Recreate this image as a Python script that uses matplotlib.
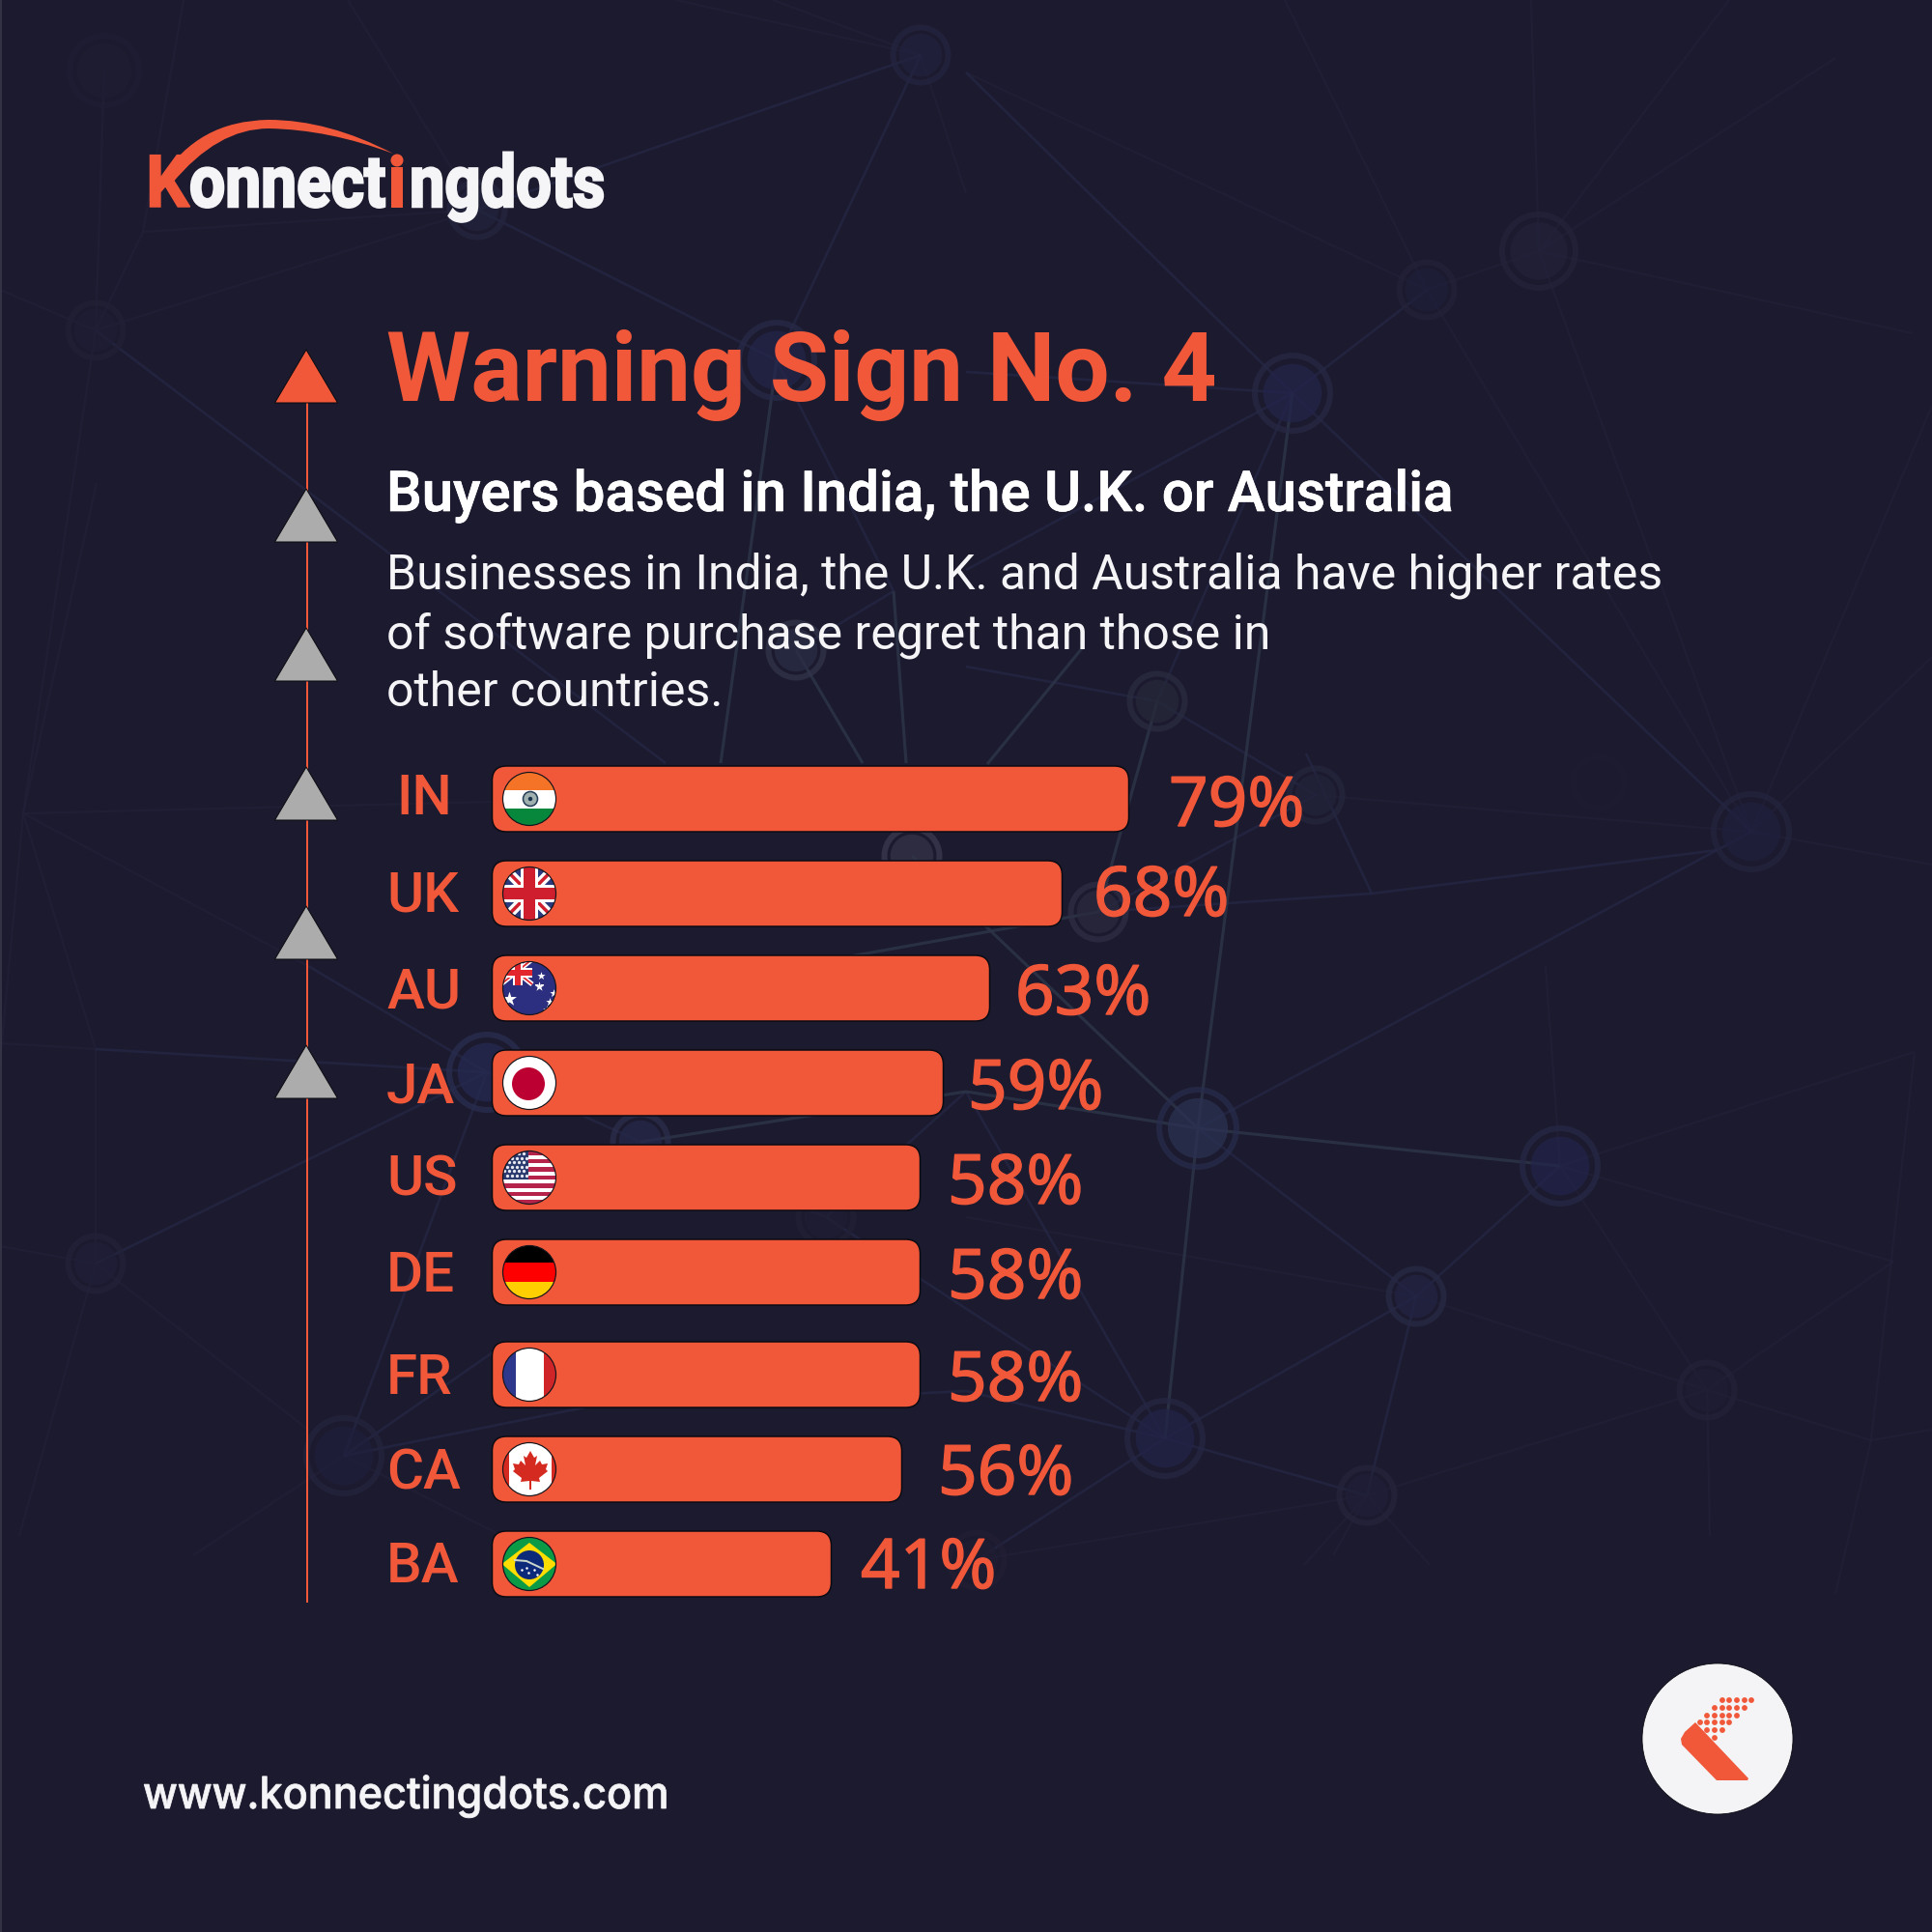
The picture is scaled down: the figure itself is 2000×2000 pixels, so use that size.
import matplotlib
matplotlib.use("Agg")
import matplotlib.pyplot as plt
from matplotlib.patches import FancyBboxPatch, Circle, Rectangle, Polygon, PathPatch
from matplotlib.path import Path
from matplotlib.patheffects import AbstractPathEffect, withStroke
from matplotlib.transforms import Affine2D

# ---------- chart data ----------
countries = ["IN", "UK", "AU", "JA", "US", "DE", "FR", "CA", "BA"]
percent_values = [79, 68, 63, 59, 58, 58, 58, 56, 41]
# drawn bar lengths (the source bars are not strictly proportional)
bar_lengths = [659, 590, 515, 467, 443, 443, 443, 424, 351]
title_text = "Warning Sign No. 4"
subtitle_text = "Buyers based in India, the U.K. or Australia"
body_lines = ["Businesses in India, the U.K. and Australia have higher rates",
              "of software purchase regret than those in",
              "other countries."]
site_text = "www.konnectingdots.com"

# ---------- layout ----------
row_centers = [827, 925, 1023, 1121, 1219, 1317, 1423, 1521, 1619]
label_x = [410, 400, 400, 400, 400, 400, 400, 400, 400]
label_base = [843, 944, 1043, 1141, 1238, 1337, 1443, 1541, 1638]
pct_x = [1210, 1132, 1051, 1002, 981, 981, 981, 971, 891]
pct_base = [855, 948, 1050, 1148, 1246, 1344, 1450, 1547, 1644]
BAR_X, BAR_H, FLAG_X, FLAG_R = 509.5, 68, 548, 27.5
ORANGE, BG, GREY = "#f1583a", "#1c1a2e", "#acacac"
WHITE = "#f5f5f7"
PX = 72 / 200

plt.rcParams["font.family"] = ["Roboto", "DejaVu Sans"]
fig = plt.figure(figsize=(10, 10), dpi=200, facecolor=BG)
ax = fig.add_axes([0, 0, 1, 1])
ax.set_xlim(0, 2000)
ax.set_ylim(2000, 0)
ax.axis("off")

# ---------- background network ----------
NODES = [  # x, y, outer radius, inner colour, ring colour
    (1593, 260, 40, "#22223a", "#242339"), (1477, 300, 30, "#201f3a", "#232238"),
    (1338, 407, 41, "#23244a", "#272844"), (1813, 861, 41, "#20203e", "#24243f"),
    (1362, 823, 29, "#22233a", "#25263e"), (1198, 726, 30, "#262838", "#2a2c40"),
    (1137, 944, 30, "#2a2a3e", "#2e2e45"), (1240, 1168, 42, "#2a3152", "#282c4c"),
    (1615, 1207, 41, "#22244a", "#262845"), (1466, 1342, 30, "#232444", "#282944"),
    (1206, 1489, 41, "#222347", "#262744"), (1415, 1548, 30, "#211f38", "#25243c"),
    (1767, 1439, 30, "#1f1e34", "#232238"), (1011, 1615, 30, "#1f1d33", "#221f36"),
    (953, 57, 30, "#22223f", "#242440"), (108, 73, 38, "#1e1d33", "#1f1e34"),
    (494, 217, 30, "#22233d", "#25253f"), (99, 342, 30, "#1f1e35", "#212036"),
    (804, 373, 41, "#24264a", "#282a48"), (824, 673, 30, "#2a2d45", "#32344a"),
    (944, 886, 30, "#333348", "#3a3a50"), (663, 1182, 30, "#26284a", "#2c2e4c"),
    (504, 1110, 41, "#252a50", "#2a2e50"), (99, 1308, 30, "#201f38", "#23223a"),
    (356, 1507, 41, "#201f3c", "#25243f"), (855, 1260, 30, "#1f1e34", "#212036"),
    (1655, 810, 28, "#1d1b30", "#1e1c31"),
]
EDGES_BRIGHT = [
    (1240, 1168, 1000, 1130), (1240, 1168, 1615, 1207), (1338, 407, 1240, 1168),
    (1240, 1168, 944, 886), (1121, 670, 1022, 791), (663, 1182, 1000, 1130),
    (1198, 726, 1137, 944), (1240, 1168, 1206, 1489), (804, 373, 746, 790),
    (824, 673, 893, 790), (925, 612, 938, 790), (1137, 944, 880, 990),
]
EDGES_MID = [
    (1338, 407, 1000, 385), (1338, 407, 1477, 300), (1338, 407, 1000, 590),
    (1338, 407, 1813, 861), (1338, 407, 1198, 726), (1000, 75, 1338, 407),
    (1240, 1168, 1813, 861), (1240, 1168, 1466, 1342), (1206, 1489, 1466, 1342),
    (1466, 1342, 1615, 1207), (1206, 1489, 1000, 1130), (1206, 1489, 1415, 1548),
    (1206, 1489, 1000, 1440), (1206, 1489, 1011, 1615), (1466, 1342, 1415, 1548),
    (953, 57, 804, 373), (953, 57, 494, 217), (494, 217, 804, 373),
    (804, 373, 925, 612), (925, 612, 824, 673), (99, 342, 689, 790),
    (504, 1110, 99, 1086), (504, 1110, 356, 1507), (99, 1308, 504, 1110),
    (319, 1000, 504, 1110), (356, 1507, 510, 1400), (356, 1507, 640, 1450),
    (1198, 726, 1362, 823), (1137, 944, 1362, 823), (1137, 944, 1420, 925),
    (1420, 925, 1778, 880), (1420, 925, 1352, 780), (1198, 726, 1000, 690),
    (663, 1182, 855, 1260), (855, 1260, 1206, 1489), (1000, 1130, 855, 1260),
    (504, 1110, 663, 1182), (1000, 1440, 800, 1450),
]
EDGES_FAINT = [
    (1477, 300, 1593, 260), (1593, 260, 1585, 0), (1593, 260, 1813, 861),
    (1477, 300, 1813, 861), (1477, 300, 1000, 75), (1593, 260, 1980, 345),
    (1813, 861, 2000, 420), (1813, 861, 2000, 680), (1813, 861, 2000, 895),
    (1813, 861, 1362, 823), (1615, 1207, 1767, 1439), (1615, 1207, 1982, 1089),
    (1615, 1207, 1960, 1306), (1466, 1342, 1767, 1439), (1415, 1548, 1767, 1439),
    (1415, 1548, 1011, 1615), (1767, 1439, 1937, 1491), (1767, 1439, 1960, 1306),
    (1767, 1439, 1770, 1590), (1982, 1089, 1937, 1491), (1937, 1491, 2000, 1480),
    (1937, 1491, 1900, 1650), (1415, 1548, 1350, 1620), (1415, 1548, 1380, 1610),
    (1415, 1548, 1480, 1620), (1000, 1260, 1466, 1342), (1615, 1207, 1600, 1000),
    (1477, 300, 1330, 0), (1593, 260, 1790, 0), (1593, 260, 1900, 60),
    (494, 217, 148, 240), (148, 240, 99, 342), (494, 217, 99, 342), (99, 342, 24, 842),
    (108, 73, 99, 342), (24, 842, 319, 1000), (24, 842, 510, 830), (99, 1086, 24, 842),
    (99, 1086, 0, 1080), (99, 1086, 99, 1308), (99, 1308, 0, 1290), (99, 1308, 319, 1480),
    (99, 1308, 20, 1590), (356, 1507, 520, 1590), (356, 1507, 200, 1610),
    (24, 842, 0, 1100), (24, 842, 100, 500), (99, 342, 0, 300), (148, 240, 190, 0),
    (494, 217, 360, 0), (953, 57, 800, 0), (953, 57, 1000, 200), (953, 57, 700, 0),
]
for segs, col, lw, alpha in ((EDGES_FAINT, "#22213a", 1.0, 0.6), (EDGES_MID, "#262848", 1.2, 0.65),
                             (EDGES_BRIGHT, "#2d3448", 1.4, 0.85)):
    for x0, y0, x1, y1 in segs:
        ax.plot([x0, x1], [y0, y1], color=col, lw=lw * 0.8, alpha=alpha, zorder=1,
                solid_capstyle="butt")
for x, y, r, inner, ring in NODES:
    ax.add_patch(Circle((x, y), r * 0.74, fc=inner, ec="none", alpha=0.75, zorder=2))
    ax.add_patch(Circle((x, y), r * 0.95, fc="none", ec=ring, lw=6 * PX, alpha=0.75, zorder=2))
ax.plot([0.5, 0.5], [0, 2000], color="#3b3a4c", lw=1.5 * PX, zorder=2)


# ---------- text helpers ----------
class Stretch(AbstractPathEffect):
    """Scale a real text object around a fixed anchor (pixels, display coordinates)."""
    def __init__(self, x0, y0, sx, sy=1.0, stroke=0.0):
        super().__init__()
        self.x0, self.y0, self.sx, self.sy, self.stroke = x0, y0, sx, sy, stroke

    def draw_path(self, renderer, gc, tpath, affine, rgbFace=None):
        extra = (Affine2D().translate(-self.x0, -self.y0).scale(self.sx, self.sy)
                 .translate(self.x0, self.y0))
        gc0 = renderer.new_gc()
        gc0.copy_properties(gc)
        if self.stroke > 0:
            gc0.set_foreground(rgbFace)
            gc0.set_linewidth(self.stroke * PX)
            gc0.set_joinstyle("miter")
        else:
            gc0.set_linewidth(0)
        renderer.draw_path(gc0, tpath, affine + extra, rgbFace)
        gc0.restore()


renderer = fig.canvas.get_renderer()


def fitted(s, x0, x1, y, color, size, stroke=0.0, sy=1.0, **kw):
    t = ax.text(x0, y, s, color=color, fontsize=size, va="baseline", ha="left", zorder=6, **kw)
    bb = t.get_window_extent(renderer)
    t.set_x(x0 - (bb.x0 - x0))
    t.set_path_effects([Stretch(x0, 2000 - y, (x1 - x0) / bb.width, sy, stroke)])
    return t


# ---------- logo ----------
LOGO = dict(fontweight="bold", family=["Roboto", "DejaVu Sans"])
LOGO_SIZE = 23.5
LOGO_SY = 27 / LOGO_SIZE
fitted("K", 151, 196, 214, ORANGE, LOGO_SIZE, stroke=1.5, sy=LOGO_SY, **LOGO)
fitted("onnect", 196, 399, 214, WHITE, LOGO_SIZE, stroke=2.5, sy=LOGO_SY, **LOGO)
fitted("\u0131", 402, 420, 214, ORANGE, LOGO_SIZE, stroke=2, sy=LOGO_SY, **LOGO)
fitted("ngdots", 424, 626, 214, WHITE, LOGO_SIZE, stroke=2.5, sy=LOGO_SY, **LOGO)
ax.add_patch(Circle((411, 166), 6.5, fc=ORANGE, ec="none", zorder=6))
swoosh = Path([(168, 184), (205, 125), (278, 124), (340, 124), (407, 159),
               (340, 134), (278, 133), (225, 133), (178, 190), (168, 184)],
              [Path.MOVETO, Path.CURVE3, Path.CURVE3, Path.CURVE3, Path.CURVE3,
               Path.CURVE3, Path.CURVE3, Path.CURVE3, Path.CURVE3, Path.CLOSEPOLY])
ax.add_patch(PathPatch(swoosh, fc=ORANGE, ec="none", zorder=6))

# ---------- arrow line and triangles ----------
ax.plot([317.5, 317.5], [417, 1658], color=ORANGE, lw=2 * PX, zorder=3)
tri_tops = [362, 506, 650, 794, 938, 1082]
for i, top in enumerate(tri_tops):
    ax.add_patch(Polygon([(317, top), (349.5, top + 55), (284.5, top + 55)], closed=True,
                         fc=ORANGE if i == 0 else GREY, ec="#0a0a10", lw=1 * PX, zorder=4))

# ---------- headings ----------
ax.text(400, 415, title_text, color=ORANGE, fontsize=35.9, fontweight="bold", va="baseline", zorder=6)
ax.text(400, 529, subtitle_text, color="white", fontsize=20.95, fontweight="medium", va="baseline", zorder=6,
        path_effects=[withStroke(linewidth=0.7 * PX, foreground="white")])
for line, y in zip(body_lines, [610, 671, 731]):
    ax.text(400, y, line, color=WHITE, fontsize=17.94, va="baseline", zorder=6)
fitted(site_text, 148, 692, 1872, WHITE, 16.4, stroke=0.8, fontweight="medium",
       family=["Inter", "DejaVu Sans"])


# ---------- flags ----------
def clip_to(cy):
    c = Circle((FLAG_X, cy), FLAG_R, transform=ax.transData)
    return c


def rect(cy, x0, y0, x1, y1, col, z=8):
    p = Rectangle((x0, y0), x1 - x0, y1 - y0, fc=col, ec="none", zorder=z)
    ax.add_patch(p)
    p.set_clip_path(clip_to(cy))
    return p


def poly(cy, pts, col, z=8):
    p = Polygon(pts, closed=True, fc=col, ec="none", zorder=z)
    ax.add_patch(p)
    p.set_clip_path(clip_to(cy))
    return p


def stripe(cy, x0, y0, x1, y1, col, w, z=8):
    l, = ax.plot([x0, x1], [y0, y1], color=col, lw=w * PX, zorder=z, solid_capstyle="butt")
    l.set_clip_path(clip_to(cy))


def stars(cy, pts, size=8, marker="*", col="white"):
    xs, ys = zip(*pts)
    s = ax.scatter(xs, ys, s=size, marker=marker, c=col, linewidths=0, zorder=10)
    s.set_clip_path(clip_to(cy))


L, R = FLAG_X - FLAG_R, FLAG_X + FLAG_R


def flag_in(cy):
    rect(cy, L, cy - 28, R, cy - 9, "#f47327")
    rect(cy, L, cy - 9, R, cy + 10, "white")
    rect(cy, L, cy + 10, R, cy + 28, "#07873c")
    ax.add_patch(Circle((FLAG_X + 1, cy), 7.5, fc="#9fb0ae", ec="#28405a", lw=1.6 * PX, zorder=9))
    ax.add_patch(Circle((FLAG_X + 1, cy), 2.2, fc="#17324a", ec="none", zorder=10))


def flag_uk(cy):
    rect(cy, L, cy - 28, R, cy + 28, "#2b3a7c")
    for sign in (1, -1):
        stripe(cy, L, cy - 28 * sign, R, cy + 28 * sign, "white", 10)
        stripe(cy, L, cy - 28 * sign, R, cy + 28 * sign, "#cf1f2e", 3.5, z=9)
    rect(cy, L, cy - 9, R, cy + 9, "white", z=9)
    rect(cy, FLAG_X - 9, cy - 28, FLAG_X + 9, cy + 28, "white", z=9)
    rect(cy, L, cy - 6, R, cy + 6, "#cf1f2e", z=10)
    rect(cy, FLAG_X - 6, cy - 28, FLAG_X + 6, cy + 28, "#cf1f2e", z=10)


def flag_au(cy):
    rect(cy, L, cy - 28, R, cy + 28, "#2c2f80")
    stripe(cy, L - 2, cy - 30, 551, cy - 4, "white", 5)
    stripe(cy, L - 2, cy - 4, 551, cy - 30, "white", 5)
    stripe(cy, L - 2, cy - 30, 551, cy - 4, "#e3262e", 1.8, z=9)
    stripe(cy, L - 2, cy - 4, 551, cy - 30, "#e3262e", 1.8, z=9)
    rect(cy, L, cy - 21, 551, cy - 11, "white", z=9)
    rect(cy, 531, cy - 30, 541, cy - 3, "white", z=9)
    rect(cy, L, cy - 19, 551, cy - 13, "#e3262e", z=10)
    rect(cy, 533, cy - 30, 539, cy - 3, "#e3262e", z=10)
    stars(cy, [(560, cy - 13), (573, cy + 5), (569, cy + 14), (566, cy + 22)], size=10)
    stars(cy, [(527, cy + 11)], size=32)
    stars(cy, [(558, cy - 2)], size=14)


def flag_ja(cy):
    rect(cy, L, cy - 28, R, cy + 28, "white")
    ax.add_patch(Circle((FLAG_X - 1, cy + 1), 17, fc="#bc0032", ec="none", zorder=9))


def flag_us(cy):
    rect(cy, L, cy - 28, R, cy + 28, "white")
    h = 55 / 13
    for k in range(0, 13, 2):
        rect(cy, L, cy - 27.5 + k * h, R, cy - 27.5 + (k + 1) * h, "#b5224a")
    rect(cy, L, cy - 28, 547, cy + 2, "#2b3a6e", z=9)
    pts = [(522 + 5 * i + (2.5 if j % 2 else 0), cy - 25 + 4.6 * j)
           for i in range(5) for j in range(6)]
    stars(cy, pts, size=1.4, marker="o", col="#e8e8f0")


def flag_de(cy):
    rect(cy, L, cy - 28, R, cy - 10, "black")
    rect(cy, L, cy - 10, R, cy + 10, "#ff0000")
    rect(cy, L, cy + 10, R, cy + 28, "#ffce00")


def flag_fr(cy):
    rect(cy, L, cy - 28, 534, cy + 28, "#2d388d")
    rect(cy, 534, cy - 28, 563, cy + 28, "white")
    rect(cy, 563, cy - 28, R, cy + 28, "#cf2529")


def flag_ca(cy):
    rect(cy, L, cy - 28, 527, cy + 28, "#d42a20")
    rect(cy, 527, cy - 28, 571, cy + 28, "white")
    rect(cy, 571, cy - 28, R, cy + 28, "#d42a20")
    leaf = [(0, -18), (4, -11), (7, -13), (5, -3), (10, -8), (12, -4), (18, -5), (16, 1),
            (18, 3), (9, 10), (10, 14), (1, 13), (1, 22), (-1, 22), (-1, 13), (-10, 14),
            (-9, 10), (-18, 3), (-16, 1), (-18, -5), (-12, -4), (-10, -8), (-5, -3),
            (-7, -13), (-4, -11)]
    poly(cy, [(FLAG_X + 1 + a, cy - 1 + b) for a, b in leaf], "#d42a20", z=9)


def flag_br(cy):
    rect(cy, L, cy - 28, R, cy + 28, "#0b9a45")
    poly(cy, [(L - 1, cy), (FLAG_X, cy - 22), (R + 1, cy), (FLAG_X, cy + 24)], "#fedd00", z=9)
    ax.add_patch(Circle((FLAG_X, cy + 1), 15, fc="#0d2a7a", ec="none", zorder=10))
    ax.plot([533, 545, 562], [cy - 4, cy - 3, cy + 5], color="#c9d6cc", lw=2 * PX, zorder=11)
    ax.scatter([540, 547, 553, 556, 545], [cy + 6, cy + 9, cy + 6, cy + 11, cy + 4], s=0.8,
               c="white", linewidths=0, zorder=11)


flag_painters = [flag_in, flag_uk, flag_au, flag_ja, flag_us, flag_de, flag_fr, flag_ca, flag_br]

# ---------- bars, labels, flags ----------
for name, pct, length, cy, lx, lb, px, pb, paint in zip(
        countries, percent_values, bar_lengths, row_centers, label_x, label_base,
        pct_x, pct_base, flag_painters):
    ax.add_patch(FancyBboxPatch((BAR_X, cy - BAR_H / 2), length, BAR_H,
                                boxstyle="round,pad=0,rounding_size=15",
                                fc=ORANGE, ec="#0a0a12", lw=1.5 * PX, zorder=5))
    ax.text(lx, lb, name, color=ORANGE, fontsize=21, fontweight="medium", va="baseline", zorder=6)
    ax.text(px, pb, f"{pct}%", color=ORANGE, fontsize=25.6, fontweight="medium",
            family=["Noto Sans", "DejaVu Sans"], va="baseline", zorder=6,
            path_effects=[withStroke(linewidth=1.4 * PX, foreground=ORANGE)])
    paint(cy)
    ax.add_patch(Circle((FLAG_X, cy), FLAG_R, fc="none", ec="#14141c", lw=1.2 * PX, zorder=12))

# ---------- badge ----------
ax.add_patch(Circle((1778, 1800), 78, fc="#f4f4f6", ec="#0a0a12", lw=0.8 * PX, zorder=5))
ax.add_patch(Polygon([(1755, 1783), (1744, 1793), (1740, 1800), (1741, 1806), (1777, 1843),
                      (1809, 1843), (1810, 1841)], closed=True, fc=ORANGE, ec="none", zorder=6))
dot_rows = [(1760, [1783, 1790, 1798, 1806, 1813]), (1768, [1775, 1783, 1790, 1798, 1806]),
            (1776, [1767, 1775, 1783, 1790, 1798]), (1783, [1760, 1767, 1775, 1783, 1790]),
            (1791, [1767, 1775, 1783]), (1799, [1775])]
for y, xs in dot_rows:
    for x in xs:
        ax.add_patch(Circle((x, y), 2.9, fc=ORANGE, ec="none", zorder=6))

fig.savefig("out.png", dpi=200, facecolor=BG)
